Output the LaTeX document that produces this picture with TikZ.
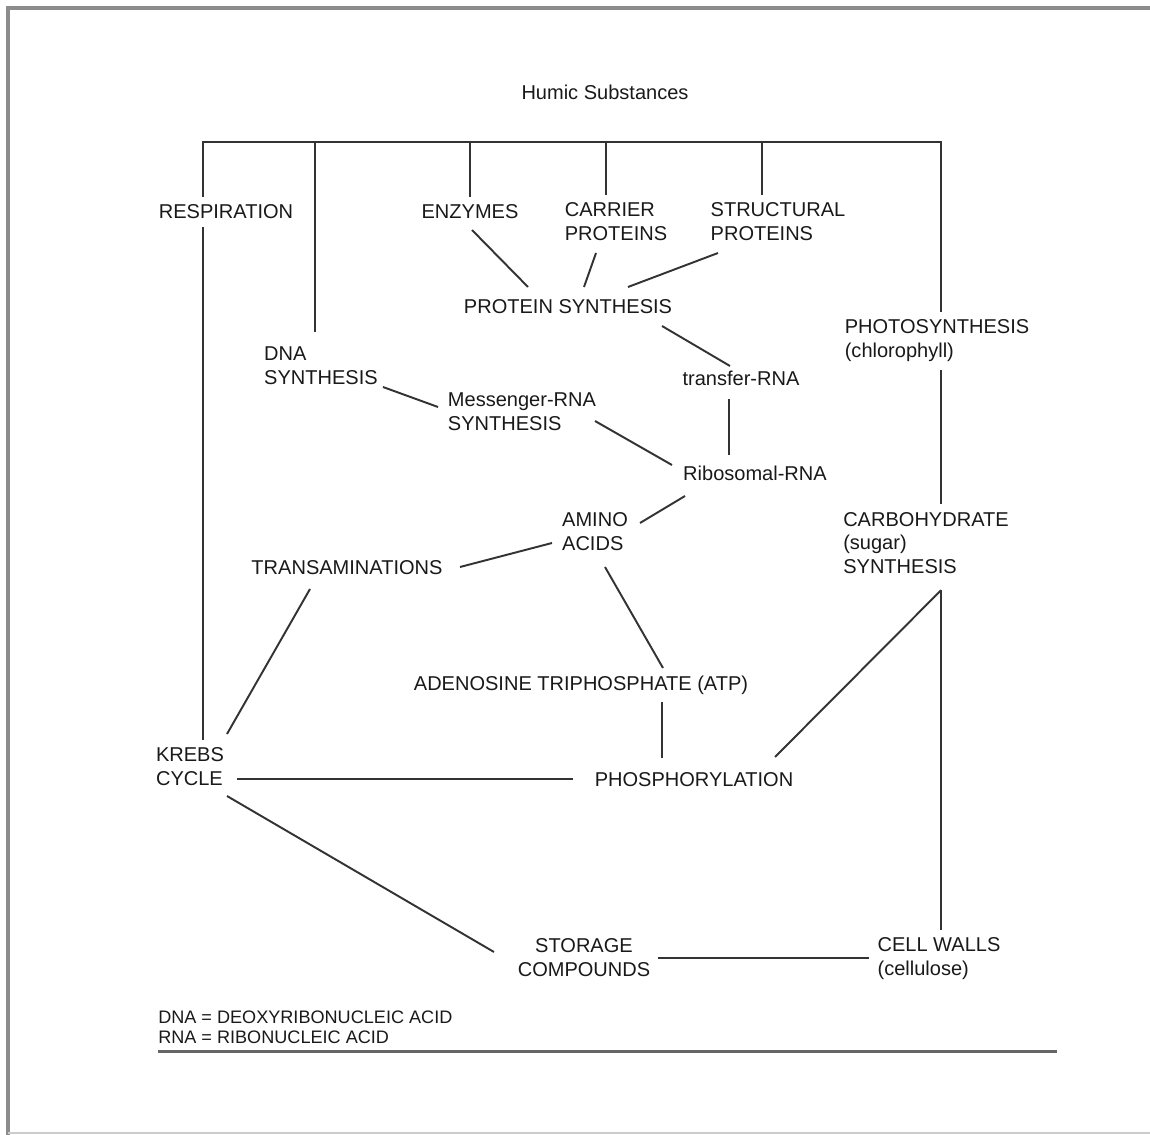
\documentclass[tikz,border=0pt]{standalone}
\usepackage{fontspec}
\setmainfont{Liberation Sans}
\usetikzlibrary{calc}

\begin{document}
\begin{tikzpicture}[
    x=0.02cm, y=-0.02cm,
    every node/.style={inner sep=4.5pt, text=black!90},
    term/.style={font=\fontsize{11.4}{13.6}\selectfont, align=left},
    termc/.style={font=\fontsize{11.4}{13.6}\selectfont, align=center},
    note/.style={font=\fontsize{10.3}{11.4}\selectfont, align=left},
    wire/.style={draw=black!80, line width=1.1pt},
    rim/.style={draw=black!45, line width=2.2pt},
    rule/.style={draw=black!60, line width=1.4pt}
]
\useasboundingbox (0,0) rectangle (1150,1135);

% Frame
\draw[rim] (8,1135) -- (8,8) -- (1150,8);
\draw[draw=black!20, line width=1pt] (8,1133) -- (1150,1133);

% Nodes
\node[termc] (humic) at (605,92) {Humic Substances};
\node[term] (resp) at (226,212) {RESPIRATION};
\node[term] (enz) at (470,212) {ENZYMES};
\node[term] (carr) at (616,222) {CARRIER\\PROTEINS};
\node[term] (struct) at (778,222) {STRUCTURAL\\PROTEINS};
\node[term] (prot) at (568,307) {PROTEIN SYNTHESIS};
\node[term] (photo) at (937,341) {PHOTOSYNTHESIS\\(chlorophyll)};
\node[term] (dna) at (321,366) {DNA\\SYNTHESIS};
\node[term] (trna) at (741,378) {transfer-RNA};
\node[term] (mrna) at (522,412) {Messenger-RNA\\SYNTHESIS};
\node[term] (rrna) at (755,473) {Ribosomal-RNA};
\node[term] (amino) at (595,532) {AMINO\\ACIDS};
\node[term] (carb) at (926,543) {CARBOHYDRATE\\(sugar)\\SYNTHESIS};
\node[term] (trans) at (347,568) {TRANSAMINATIONS};
\node[term] (atp) at (581,685) {ADENOSINE TRIPHOSPHATE (ATP)};
\node[term] (krebs) at (190,767) {KREBS\\CYCLE};
\node[term] (phos) at (694,780) {PHOSPHORYLATION};
\node[termc] (stor) at (584,958) {STORAGE\\COMPOUNDS};
\node[term] (cell) at (939,959) {CELL WALLS\\(cellulose)};
\node[note, anchor=west] (abbr) at (150,1027) {DNA = DEOXYRIBONUCLEIC ACID\\RNA = RIBONUCLEIC ACID};

% Bus from the humic substances
\coordinate (busL) at (203,142);
\coordinate (busR) at (941,142);
\coordinate (dnatop) at ($(dna.north)+(-6,-7)$);
\coordinate (carrtop) at ($(carr.north)+(-10,0)$);
\coordinate (structtop) at ($(struct.north)+(-16,0)$);
\draw[wire] (resp.north -| busL) -- (busL) -- (busR) -- (photo.north -| busR);
\draw[wire] (dnatop) -- (dnatop |- busL);
\draw[wire] (enz.north) -- (enz.north |- busL);
\draw[wire] (carrtop) -- (carrtop |- busL);
\draw[wire] (structtop) -- (structtop |- busL);

% Links
\draw[wire] ($(enz)+(2,18)$) -- ($(prot)+(-40,-20)$);
\draw[wire] ($(carr)+(-20,31)$) -- ($(prot)+(16,-20)$);
\draw[wire] ($(struct)+(-60,31)$) -- ($(prot)+(60,-20)$);
\draw[wire] ($(prot)+(94,19)$) -- ($(trna)+(-11,-12)$);
\draw[wire] ($(dna)+(62,21)$) -- ($(mrna)+(-84,-5)$);
\draw[wire] ($(mrna)+(73,9)$) -- ($(rrna)+(-83,-8)$);
\draw[wire] ($(trna)+(-12,21)$) -- ($(rrna)+(-26,-18)$);
\draw[wire] ($(rrna)+(-70,23)$) -- ($(amino)+(45,-9)$);
\draw[wire] ($(trans)+(113,-1)$) -- ($(amino)+(-43,11)$);
\draw[wire] ($(amino)+(10,35)$) -- ($(atp)+(82,-17)$);
\draw[wire] ($(atp)+(81,17)$) -- ($(phos)+(-32,-22)$);
\draw[wire] ($(trans)+(-37,21)$) -- ($(krebs)+(37,-33)$);
\draw[wire] ($(krebs)+(47,12)$) -- ($(phos)+(-121,-1)$);
\draw[wire] ($(krebs)+(37,29)$) -- ($(stor)+(-90,-6)$);
\draw[wire] (stor.east) -- (stor.east -| cell.west);
\draw[wire] (resp.south -| busL) -- (krebs.north -| busL);
\draw[wire] (photo.south -| busR) -- (carb.north -| busR);
\coordinate (carbfoot) at ($(carb.south -| busR)+(0,8)$);
\draw[wire] (carbfoot) -- (cell.north -| busR);
\draw[wire] (carbfoot) -- ($(phos)+(81,-23)$);

% Rule under the abbreviations
\draw[rule] ($(abbr.south west)+(8,0)$) -- ++(899,0);

\end{tikzpicture}
\end{document}
